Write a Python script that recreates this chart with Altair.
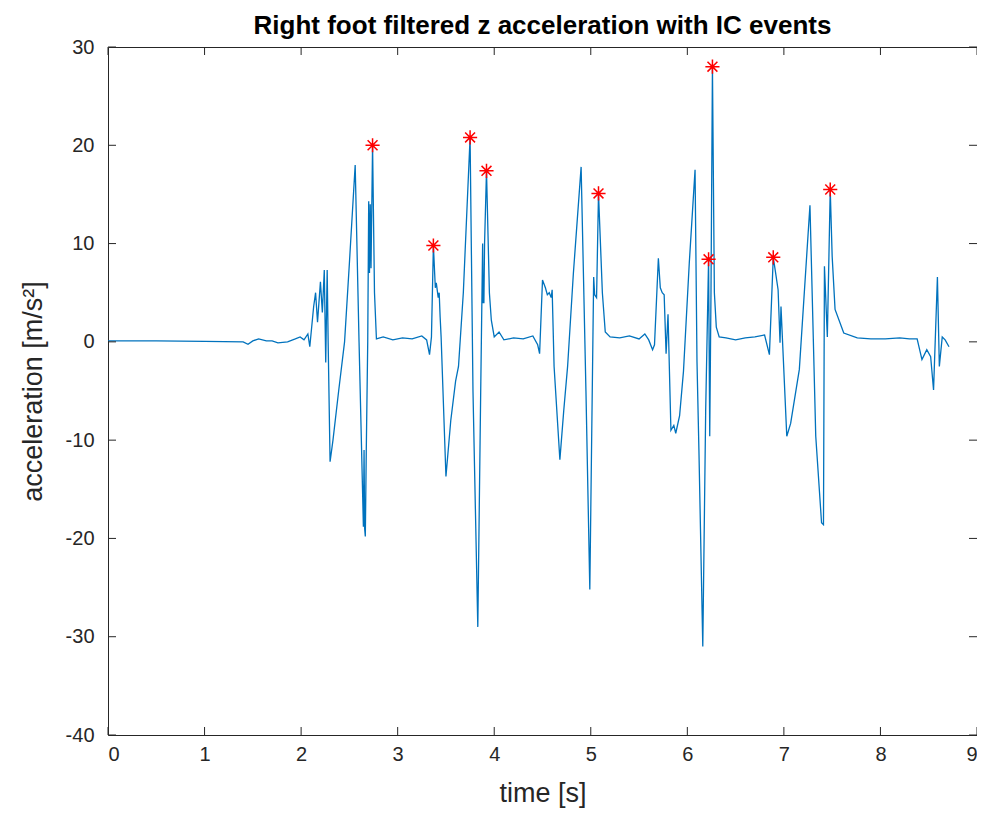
import altair as alt
import pandas as pd

# ---- data ----
time_s = [0.0, 0.5, 1.0, 1.40, 1.45, 1.50, 1.56, 1.64, 1.70, 1.76, 1.86, 1.94, 1.99, 2.03, 2.07, 2.09,
          2.13, 2.15, 2.17, 2.20, 2.22, 2.24, 2.255, 2.27, 2.28, 2.30, 2.33, 2.39, 2.45, 2.50, 2.56,
          2.60, 2.645, 2.652, 2.658, 2.665, 2.675, 2.69, 2.70, 2.708, 2.716, 2.724, 2.74, 2.76, 2.78,
          2.85, 2.95, 3.05, 3.15, 3.25, 3.30, 3.33, 3.35, 3.37, 3.39, 3.40, 3.42, 3.43, 3.44, 3.45,
          3.50, 3.55, 3.60, 3.63, 3.68, 3.75, 3.78, 3.83, 3.86, 3.88, 3.885, 3.893, 3.90, 3.92, 3.95,
          3.97, 4.00, 4.05, 4.10, 4.20, 4.30, 4.40, 4.45, 4.47, 4.50, 4.53, 4.55, 4.57, 4.59, 4.60,
          4.62, 4.68, 4.72, 4.76, 4.82, 4.90, 4.95, 4.99, 5.03, 5.04, 5.06, 5.08, 5.12, 5.15, 5.20,
          5.30, 5.40, 5.50, 5.56, 5.60, 5.64, 5.66, 5.70, 5.72, 5.74, 5.76, 5.78, 5.80, 5.83, 5.86,
          5.88, 5.92, 5.96, 6.02, 6.08, 6.10, 6.12, 6.16, 6.19, 6.22, 6.232, 6.245, 6.26, 6.28, 6.30,
          6.33, 6.40, 6.50, 6.60, 6.70, 6.80, 6.85, 6.89, 6.91, 6.94, 6.96, 6.97, 7.03, 7.07, 7.16,
          7.27, 7.33, 7.39, 7.41, 7.42, 7.45, 7.48, 7.50, 7.53, 7.62, 7.76, 7.90, 8.05, 8.20, 8.30,
          8.38, 8.43, 8.48, 8.52, 8.55, 8.59, 8.61, 8.64, 8.67, 8.71]
accel = [0.1, 0.1, 0.05, 0.0, -0.25, 0.1, 0.3, 0.1, 0.1, -0.1, 0.0, 0.3, 0.5, 0.2, 0.8, -0.5,
         3.6, 5.0, 2.0, 6.1, 3.0, 7.3, -2.1, 7.3, 0.0, -12.2, -10.0, -4.9, 0.0, 8.0, 18.0,
         0.0, -18.8, -11.0, -19.0, -19.8, -11.0, 0.0, 14.3, 7.0, 14.0, 7.5, 20.0, 5.0, 0.3,
         0.5, 0.2, 0.4, 0.3, 0.6, 0.2, -1.3, 0.5, 9.8, 5.5, 6.0, 4.5, 5.0, 2.5, 0.5,
         -13.7, -8.0, -4.0, -2.5, 5.0, 20.8, -5.0, -29.0, -5.0, 10.0, 4.0, 4.0, 10.0, 17.4, 5.0,
         2.2, 0.5, 1.0, 0.2, 0.4, 0.3, 0.6, -0.3, -1.2, 6.3, 5.5, 4.8, 5.0, 4.5, 5.3,
         -2.5, -12.0, -7.0, -2.5, 7.0, 17.8, -5.0, -25.2, 6.6, 4.8, 4.5, 15.1, 5.0, 1.0, 0.5,
         0.4, 0.6, 0.3, 0.8, 0.2, -0.8, -0.3, 8.5, 5.5, 5.0, 4.8, -1.2, 2.8, -9.0, -8.5,
         -9.3, -7.5, -3.0, 8.0, 17.5, -2.0, -11.0, -31.0, -7.0, 8.4, -9.6, 5.0, 28.0, 5.0, 1.5,
         0.5, 0.4, 0.2, 0.4, 0.5, 0.7, -1.3, 8.6, 7.3, 5.3, -0.1, 3.6, -9.6, -8.3, -2.8,
         13.9, -9.6, -18.4, -18.6, 7.7, 0.5, 15.5, 8.7, 3.3, 0.9, 0.4, 0.3, 0.3, 0.4, 0.3,
         0.3, -1.8, -0.8, -1.5, -4.9, 6.6, -2.5, 0.5, 0.2, -0.5]

ic_time = [2.74, 3.37, 3.75, 3.92, 5.08, 6.22, 6.26, 6.89, 7.48]
ic_accel = [20.0, 9.8, 20.8, 17.4, 15.1, 8.4, 28.0, 8.6, 15.5]

x_ticks = [0, 1, 2, 3, 4, 5, 6, 7, 8, 9]
y_ticks = [-40, -30, -20, -10, 0, 10, 20, 30]

W, H = 869, 688
FONT = "Liberation Sans, Arial, Helvetica, sans-serif"
AX = "#262626"

sig = pd.DataFrame({"t": time_s, "a": accel})
ic = pd.DataFrame({"t": ic_time, "a": ic_accel})
xt = pd.DataFrame({"v": x_ticks})
yt = pd.DataFrame({"v": y_ticks})

xscale = alt.Scale(domain=[0, 9], nice=False, zero=False)
yscale = alt.Scale(domain=[-40, 30], nice=False, zero=False)

xaxis = alt.Axis(values=x_ticks, title="time [s]", grid=False, domain=False, ticks=False,
                 labelPadding=9, titlePadding=16, labelExpr="'' + datum.value")
yaxis = alt.Axis(values=y_ticks, title="acceleration [m/s²]", grid=False, domain=False, ticks=False,
                 labelPadding=14, titlePadding=18, labelExpr="'' + datum.value")

line = alt.Chart(sig).mark_line(color="#0072BD", strokeWidth=1.3, clip=True).encode(
    x=alt.X("t:Q", scale=xscale, axis=xaxis),
    y=alt.Y("a:Q", scale=yscale, axis=yaxis),
    order="t:Q",
)

star_path = "M-1,0L1,0M0,-1L0,1M-0.7,-0.7L0.7,0.7M-0.7,0.7L0.7,-0.7"
stars = alt.Chart(ic).mark_point(shape=star_path, color="#FF0000", filled=False,
                                 size=200, strokeWidth=1.5, opacity=1).encode(
    x=alt.X("t:Q", scale=xscale),
    y=alt.Y("a:Q", scale=yscale),
)

tick_len = 8
xt_bottom = alt.Chart(xt).mark_rule(color=AX, strokeWidth=1).encode(
    x=alt.X("v:Q", scale=xscale), y=alt.value(H), y2=alt.value(H - tick_len))
xt_top = alt.Chart(xt).mark_rule(color=AX, strokeWidth=1).encode(
    x=alt.X("v:Q", scale=xscale), y=alt.value(0), y2=alt.value(tick_len))
yt_left = alt.Chart(yt).mark_rule(color=AX, strokeWidth=1).encode(
    y=alt.Y("v:Q", scale=yscale), x=alt.value(0), x2=alt.value(tick_len))
yt_right = alt.Chart(yt).mark_rule(color=AX, strokeWidth=1).encode(
    y=alt.Y("v:Q", scale=yscale), x=alt.value(W), x2=alt.value(W - tick_len))

chart = alt.layer(line, xt_bottom, xt_top, yt_left, yt_right, stars).properties(
    width=W, height=H,
    background="#ffffff",
    title=alt.TitleParams("Right foot filtered z acceleration with IC events",
                          font=FONT, fontSize=26, fontWeight="bold", color="#000000",
                          anchor="middle", offset=-2),
    padding={"left": 100, "top": 39, "right": 0, "bottom": 75},
    autosize=alt.AutoSizeParams(type="none"),
).configure_view(stroke=AX, strokeWidth=1).configure_axis(
    labelFont=FONT, labelFontSize=20, labelColor=AX,
    titleFont=FONT, titleFontSize=27, titleColor=AX, titleFontWeight="normal",
)

chart.save("out.html", embed_options={"renderer": "svg", "actions": False})
